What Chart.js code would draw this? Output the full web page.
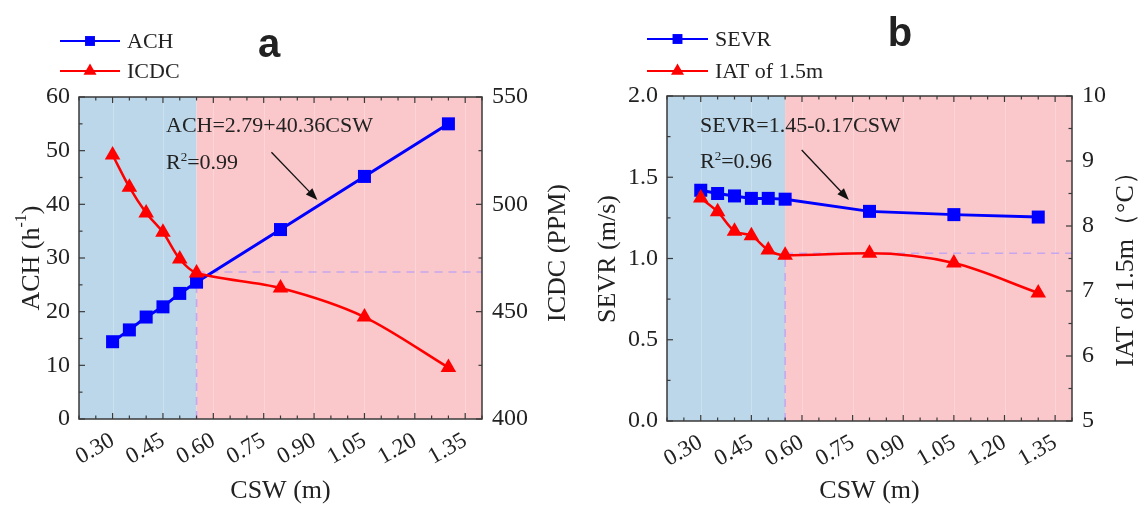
<!DOCTYPE html>
<html><head><meta charset="utf-8">
<script src="https://cdn.jsdelivr.net/npm/chart.js@4.4.0/dist/chart.umd.min.js"></script>
<style>
html,body{margin:0;padding:0;background:#fff;width:1140px;height:508px;overflow:hidden}
canvas{position:absolute;top:0}
#ca{left:0}#cb{left:570px}
</style></head><body>
<canvas id="ca" width="570" height="508"></canvas>
<canvas id="cb" width="570" height="508"></canvas>
<script>
// ---------- data ----------
const csw  = [0.30, 0.35, 0.40, 0.45, 0.50, 0.55, 0.80, 1.05, 1.30];
const ach  = [14.4, 16.6, 19.0, 20.9, 23.4, 25.5, 35.3, 45.2, 55.0];
const icdc = [523, 508, 496, 487, 474.5, 468, 461, 447.5, 424];
const sevr = [1.42, 1.40, 1.385, 1.37, 1.37, 1.365, 1.29, 1.27, 1.255];
const iat  = [8.43, 8.22, 7.92, 7.85, 7.63, 7.55, 7.58, 7.43, 6.97];
const xTickValues = [0.30, 0.45, 0.60, 0.75, 0.90, 1.05, 1.20, 1.35];
const splitCSW = 0.55;
// reference (dashed) lines
const refA_vx = [0.55, 0.55], refA_vy = [0, 27.4];
const refA_hx = [0.55, 1.40], refA_hy = [468.5, 468.5];
const refB_vx = [0.55, 0.55], refB_vy = [5, 7.55];
const refB_hx = [0.55, 1.40], refB_hy = [7.58, 7.58];

const SERIF = '"Liberation Serif","Times New Roman",serif';
const BLUE = '#0000ff', RED = '#ff0000', DASH = 'rgba(195,165,240,0.95)';
const TXT = '#222';

function pts(xs, ys){ return xs.map((x,i)=>({x:x, y:ys[i]})); }

function drawMarker(ctx, style, x, y, r, color){
  ctx.save(); ctx.fillStyle = color; ctx.beginPath();
  if(style==='rect'){ const s=r*Math.SQRT1_2; ctx.rect(x-s,y-s,2*s,2*s); }
  else { ctx.moveTo(x, y-r); ctx.lineTo(x+r*0.866, y+r*0.5); ctx.lineTo(x-r*0.866, y+r*0.5); ctx.closePath(); }
  ctx.fill(); ctx.restore();
}

function textSup(ctx, parts, x, y, size){
  let cx = x;
  parts.forEach(([t, sup])=>{
    ctx.font = (sup ? Math.round(size*0.6) : size) + 'px ' + SERIF;
    ctx.fillText(t, cx, sup ? y - size*0.38 : y);
    cx += ctx.measureText(t).width;
  });
  return cx - x;
}
function measureSup(ctx, parts, size){
  let w=0; parts.forEach(([t,sup])=>{ctx.font=(sup?Math.round(size*0.6):size)+'px '+SERIF; w+=ctx.measureText(t).width;}); return w;
}

function makePanel(canvasId, cfg){
  const panelPlugin = {
    id: 'panel'+canvasId,
    beforeDatasetsDraw(chart){
      const {ctx, chartArea:a, scales} = chart; const x = scales.x;
      const xs = x.getPixelForValue(splitCSW);
      ctx.save();
      ctx.fillStyle = 'rgb(187,215,233)'; ctx.fillRect(a.left, a.top, xs-a.left, a.bottom-a.top);
      ctx.fillStyle = 'rgb(250,199,203)'; ctx.fillRect(xs, a.top, a.right-xs, a.bottom-a.top);
      ctx.strokeStyle = 'rgba(255,255,255,0.25)'; ctx.lineWidth = 1;
      xTickValues.forEach(v=>{ const p=Math.round(x.getPixelForValue(v))+0.5; ctx.beginPath(); ctx.moveTo(p,a.top); ctx.lineTo(p,a.bottom); ctx.stroke(); });
      ctx.restore();
    },
    afterDatasetsDraw(chart){
      const {ctx, chartArea:a, scales} = chart;
      ctx.save();
      ctx.strokeStyle = '#3a3a3a'; ctx.lineWidth = 1.5;
      ctx.strokeRect(a.left, a.top, a.right-a.left, a.bottom-a.top);
      ctx.lineWidth = 1.2;
      const tick = (x1,y1,x2,y2)=>{ctx.beginPath();ctx.moveTo(x1,y1);ctx.lineTo(x2,y2);ctx.stroke();};
      for(let i=0;i<=24;i++){
        const v = 0.20 + i*0.05; const p = scales.x.getPixelForValue(v);
        const major = xTickValues.some(t=>Math.abs(t-v)<1e-6);
        const L = major ? 6 : 3.5;
        tick(p, a.bottom, p, a.bottom-L); tick(p, a.top, p, a.top+L);
      }
      const yl = scales.y, yr = scales.y2;
      for(let v=cfg.yl.min; v<=cfg.yl.max+1e-9; v+=cfg.yl.step/2){
        const p = yl.getPixelForValue(v); const major = Math.abs(Math.round(v/cfg.yl.step)*cfg.yl.step - v)<1e-9;
        tick(a.left, p, a.left+(major?6:3.5), p);
      }
      for(let v=cfg.yr.min; v<=cfg.yr.max+1e-9; v+=cfg.yr.step/2){
        const p = yr.getPixelForValue(v); const major = Math.abs(Math.round(v/cfg.yr.step)*cfg.yr.step - v)<1e-9;
        tick(a.right, p, a.right-(major?6:3.5), p);
      }
      ctx.restore();
    },
    afterDraw(chart){
      const {ctx, chartArea:a, scales} = chart;
      ctx.save();
      ctx.fillStyle = TXT; ctx.textBaseline = 'alphabetic'; ctx.textAlign='left';
      cfg.legend.forEach((lg,i)=>{
        const y = cfg.legendY[i];
        ctx.strokeStyle = lg.color; ctx.lineWidth = 2;
        ctx.beginPath(); ctx.moveTo(cfg.legendX[0], y); ctx.lineTo(cfg.legendX[1], y); ctx.stroke();
        drawMarker(ctx, lg.style, (cfg.legendX[0]+cfg.legendX[1])/2, y, lg.style==='rect'?7:7.5, lg.color);
        ctx.fillStyle = TXT; ctx.font = '22px '+SERIF; ctx.textBaseline='middle';
        ctx.fillText(lg.text, cfg.legendX[1]+7, y+1);
      });
      ctx.textBaseline='alphabetic'; ctx.textAlign='center';
      ctx.font = 'bold 40px "Liberation Sans", Arial, sans-serif';
      ctx.fillText(cfg.letter, cfg.letterPos[0], cfg.letterPos[1]);
      ctx.textAlign='left';
      ctx.font = '22px '+SERIF;
      ctx.fillText(cfg.eq, a.left+cfg.eqPos[0], a.top+cfg.eqPos[1]);
      textSup(ctx, [['R',false],['2',true],['='+cfg.r2,false]], a.left+cfg.eqPos[0], a.top+cfg.eqPos[2], 22);
      const ys = scales[cfg.arrowAxis];
      const x1 = scales.x.getPixelForValue(cfg.arrow[0]), y1 = ys.getPixelForValue(cfg.arrow[1]);
      const x2 = scales.x.getPixelForValue(cfg.arrow[2]), y2 = ys.getPixelForValue(cfg.arrow[3]);
      const ang = Math.atan2(y2-y1, x2-x1), H = 12, W = 4.5;
      ctx.strokeStyle = '#111'; ctx.fillStyle='#111'; ctx.lineWidth = 1.3;
      ctx.beginPath(); ctx.moveTo(x1,y1); ctx.lineTo(x2-H*Math.cos(ang)*0.8, y2-H*Math.sin(ang)*0.8); ctx.stroke();
      ctx.beginPath(); ctx.moveTo(x2,y2);
      ctx.lineTo(x2-H*Math.cos(ang)+W*Math.sin(ang), y2-H*Math.sin(ang)-W*Math.cos(ang));
      ctx.lineTo(x2-H*Math.cos(ang)-W*Math.sin(ang), y2-H*Math.sin(ang)+W*Math.cos(ang));
      ctx.closePath(); ctx.fill();
      ctx.fillStyle = TXT; ctx.textBaseline='middle';
      const TS = 26;
      const vtitle = (parts, cx, cy)=>{
        ctx.save(); ctx.translate(cx, cy); ctx.rotate(-Math.PI/2);
        const w = measureSup(ctx, parts, TS); textSup(ctx, parts, -w/2, 0, TS); ctx.restore();
      };
      vtitle(cfg.titleL, cfg.titleLPos[0], cfg.titleLPos[1]);
      vtitle(cfg.titleR, cfg.titleRPos[0], cfg.titleRPos[1]);
      ctx.textAlign='center'; ctx.font=TS+'px '+SERIF;
      ctx.fillText('CSW (m)', (a.left+a.right)/2, 491);
      ctx.restore();
    }
  };

  const tickFont = {family: SERIF, size: 24};
  const xFont = {family: SERIF, size: 23};
  const redLine = cfg.monotone ? {cubicInterpolationMode:'monotone'} : {tension: 0.3};
  return new Chart(document.getElementById(canvasId), {
    type: 'line',
    data: { datasets: [
      {label: cfg.legend[0].text, data: pts(csw, cfg.s1), yAxisID:'y', borderColor:BLUE, backgroundColor:BLUE,
       borderWidth:3, pointStyle:'rect', pointRadius:9.2, pointBorderWidth:0, tension:0, order:2},
      Object.assign({label: cfg.legend[1].text, data: pts(csw, cfg.s2), yAxisID:'y2', borderColor:RED, backgroundColor:RED,
       borderWidth:2.5, pointStyle:'triangle', pointRadius:9, pointBorderWidth:0, order:1}, redLine),
      {data: pts(cfg.refV[0], cfg.refV[1]), yAxisID: cfg.refV[2], borderColor:DASH, borderWidth:1.6, borderDash:[8,6], pointRadius:0, order:3},
      {data: pts(cfg.refH[0], cfg.refH[1]), yAxisID: 'y2', borderColor:DASH, borderWidth:1.6, borderDash:[8,6], pointRadius:0, order:3}
    ]},
    options: {
      responsive:false, animation:false, devicePixelRatio:1,
      layout:{padding:{top:cfg.top, left:0, right:0, bottom:0}},
      plugins:{legend:{display:false}, tooltip:{enabled:false}},
      scales:{
        x:{type:'linear', min:0.2, max:1.4,
           afterBuildTicks:s=>{ s.ticks = xTickValues.map(v=>({value:v})); },
           ticks:{autoSkip:false, minRotation:30, maxRotation:30, padding:8, color:TXT, font:xFont, callback:v=>Number(v).toFixed(2)},
           grid:{display:false, drawTicks:false}, border:{display:false},
           afterFit:s=>{ s.height = cfg.xh; }},
        y:{position:'left', min:cfg.yl.min, max:cfg.yl.max,
           ticks:{stepSize:cfg.yl.step, padding:9, color:TXT, font:tickFont, callback:v=>Number(v).toFixed(cfg.yl.dec)},
           grid:{display:false, drawTicks:false}, border:{display:false},
           afterFit:s=>{ s.width = cfg.lw; }},
        y2:{position:'right', min:cfg.yr.min, max:cfg.yr.max,
           ticks:{stepSize:cfg.yr.step, padding:10, color:TXT, font:tickFont, callback:v=>Number(v).toFixed(cfg.yr.dec)},
           grid:{display:false, drawTicks:false}, border:{display:false},
           afterFit:s=>{ s.width = cfg.rw; }}
      }
    },
    plugins:[panelPlugin]
  });
}

makePanel('ca', {
  s1: ach, s2: icdc, monotone:false,
  refV:[refA_vx, refA_vy, 'y'], refH:[refA_hx, refA_hy],
  top:97, xh:89, lw:79, rw:88,
  yl:{min:0,max:60,step:10,dec:0}, yr:{min:400,max:550,step:50,dec:0},
  legend:[{text:'ACH',color:BLUE,style:'rect'},{text:'ICDC',color:RED,style:'triangle'}],
  legendX:[60,120], legendY:[41,71],
  letter:'a', letterPos:[269,57],
  eq:'ACH=2.79+40.36CSW', r2:'0.99', eqPos:[87,35,72],
  arrowAxis:'y', arrow:[0.773,49.7,0.910,40.8],
  titleL:[['ACH (h',false],['-1',true],[')',false]], titleLPos:[32,258],
  titleR:[['ICDC (PPM)',false]], titleRPos:[558,253]
});
makePanel('cb', {
  s1: sevr, s2: iat, monotone:true,
  refV:[refB_vx, refB_vy, 'y2'], refH:[refB_hx, refB_hy],
  top:96, xh:87, lw:97, rw:68,
  yl:{min:0,max:2,step:0.5,dec:1}, yr:{min:5,max:10,step:1,dec:0},
  legend:[{text:'SEVR',color:BLUE,style:'rect'},{text:'IAT of 1.5m',color:RED,style:'triangle'}],
  legendX:[77,138], legendY:[39,71],
  letter:'b', letterPos:[330,46],
  eq:'SEVR=1.45-0.17CSW', r2:'0.96', eqPos:[33,36,72],
  arrowAxis:'y', arrow:[0.599,1.668,0.739,1.36],
  titleL:[['SEVR (m/s)',false]], titleLPos:[38,259],
  titleR:[['IAT of 1.5m（°C）',false]], titleRPos:[556,263]
});
</script>
</body></html>
